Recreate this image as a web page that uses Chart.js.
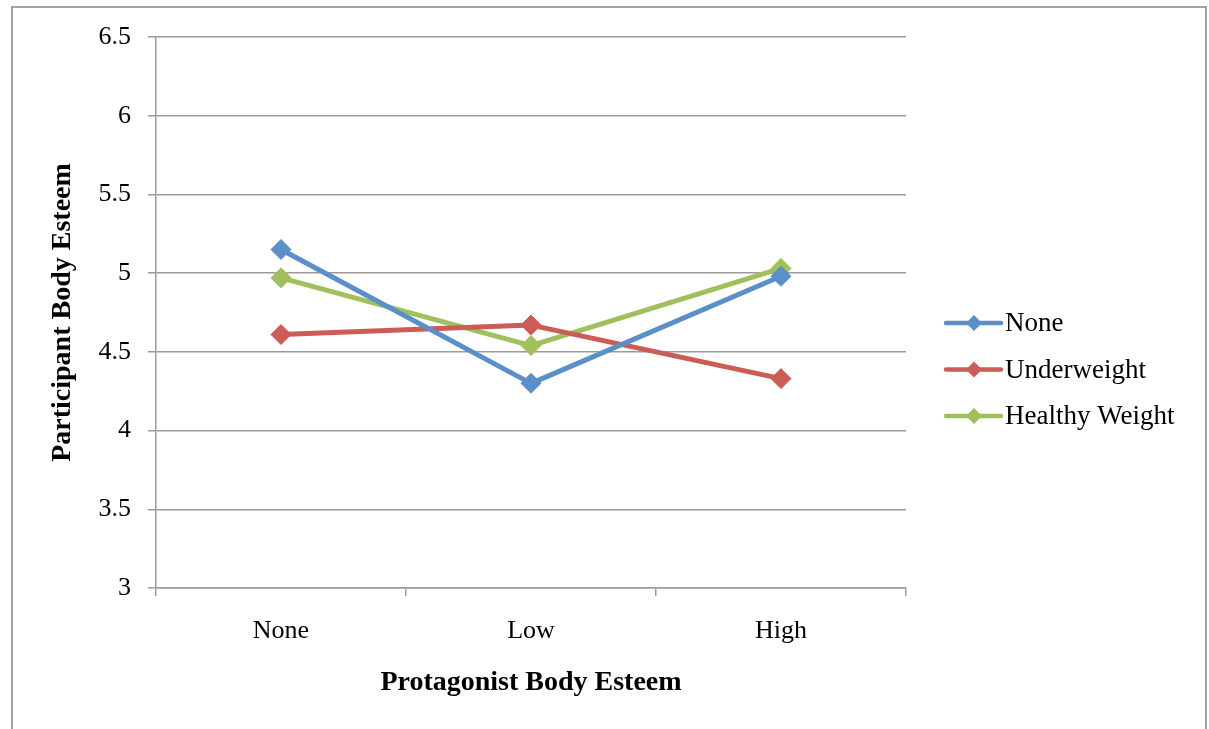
<!DOCTYPE html>
<html>
<head>
<meta charset="utf-8">
<title>Participant Body Esteem</title>
<script src="https://cdn.jsdelivr.net/npm/chart.js@4/dist/chart.umd.min.js"></script>
<style>
  html, body { margin: 0; padding: 0; background: #ffffff; }
  #wrap { width: 1209px; height: 729px; }
</style>
</head>
<body>
<div id="wrap"><canvas id="chart" width="1209" height="729"></canvas></div>
<script>
// Protagonist body esteem conditions (x axis)
const categories = ['None', 'Low', 'High'];

// Mean participant body esteem per protagonist weight condition
const seriesNames = ['None', 'Underweight', 'Healthy Weight'];
const noneValues = [5.15, 4.30, 4.98];
const underweightValues = [4.61, 4.67, 4.33];
const healthyValues = [4.97, 4.54, 5.03];

// Y axis ticks
const yTickValues = [3, 3.5, 4, 4.5, 5, 5.5, 6, 6.5];
const yTickLabels = ['3', '3.5', '4', '4.5', '5', '5.5', '6', '6.5'];

const seriesColors = ['#5A8FC9', '#CB5C56', '#A0C05E'];
const FONT = '"Liberation Serif", "Times New Roman", serif';
const GRID = '#9b9b9b';

// Frame around the whole chart
const framePlugin = {
  id: 'frame',
  beforeDraw(chart) {
    const ctx = chart.ctx;
    ctx.save();
    ctx.fillStyle = '#ffffff';
    ctx.fillRect(0, 0, chart.width, chart.height);
    ctx.strokeStyle = '#a3a3a3';
    ctx.lineWidth = 2;
    ctx.strokeRect(12, 7, 1194, chart.height + 20);
    ctx.restore();
  }
};

// Legend: line segment with a diamond marker, followed by the series name
const lineLegendPlugin = {
  id: 'lineLegend',
  afterDraw(chart) {
    const ctx = chart.ctx;
    const x0 = chart.chartArea.right + 40;
    const y0 = 323;
    const step = 46.5;
    ctx.save();
    chart.data.datasets.forEach((ds, i) => {
      const y = y0 + i * step;
      ctx.strokeStyle = ds.borderColor;
      ctx.lineWidth = 4.5;
      ctx.lineCap = 'round';
      ctx.beginPath();
      ctx.moveTo(x0, y);
      ctx.lineTo(x0 + 55, y);
      ctx.stroke();
      ctx.fillStyle = ds.borderColor;
      ctx.beginPath();
      const cx = x0 + 28, r = 8;
      ctx.moveTo(cx - r, y);
      ctx.lineTo(cx, y - r);
      ctx.lineTo(cx + r, y);
      ctx.lineTo(cx, y + r);
      ctx.closePath();
      ctx.fill();
      ctx.fillStyle = '#000000';
      ctx.font = '27px ' + FONT;
      ctx.textAlign = 'left';
      ctx.textBaseline = 'middle';
      ctx.fillText(ds.label, x0 + 59, y + 1);
    });
    ctx.restore();
  }
};

function makeDataset(label, values, color) {
  return {
    label: label,
    data: values,
    borderColor: color,
    backgroundColor: color,
    borderWidth: 5,
    borderJoinStyle: 'round',
    tension: 0,
    pointStyle: 'rectRot',
    pointRadius: 10,
    pointHoverRadius: 10,
    pointBorderWidth: 1,
    pointBackgroundColor: color,
    pointBorderColor: color,
    fill: false
  };
}

new Chart(document.getElementById('chart'), {
  type: 'line',
  data: {
    labels: categories,
    datasets: [
      makeDataset(seriesNames[0], noneValues, seriesColors[0]),
      makeDataset(seriesNames[1], underweightValues, seriesColors[1]),
      makeDataset(seriesNames[2], healthyValues, seriesColors[2])
    ]
  },
  options: {
    responsive: false,
    devicePixelRatio: 1,
    animation: false,
    layout: { padding: { left: 14, top: 37, right: 303, bottom: 0 } },
    plugins: {
      legend: { display: false },
      tooltip: { enabled: false }
    },
    scales: {
      x: {
        type: 'category',
        offset: true,
        grid: {
          offset: true,
          drawOnChartArea: false,
          drawTicks: true,
          tickLength: 8,
          color: GRID,
          lineWidth: 1.5
        },
        border: { display: true, color: GRID, width: 1.5 },
        ticks: {
          color: '#000000',
          padding: 20,
          font: { family: FONT, size: 26 }
        },
        title: {
          display: true,
          text: 'Protagonist Body Esteem',
          color: '#000000',
          font: { family: FONT, size: 28, weight: 'bold' },
          padding: { top: 0, bottom: 29 }
        },
        afterFit(scale) { scale.height = 729 - 588; }
      },
      y: {
        min: 3,
        max: 6.5,
        afterBuildTicks(scale) {
          scale.ticks = yTickValues.map(v => ({ value: v }));
        },
        grid: {
          drawTicks: true,
          tickLength: 8,
          color: GRID,
          lineWidth: 1.5
        },
        border: { display: true, color: GRID, width: 1.5 },
        ticks: {
          color: '#000000',
          padding: 17,
          font: { family: FONT, size: 26 },
          callback(value) {
            const i = yTickValues.indexOf(value);
            return i >= 0 ? yTickLabels[i] : '';
          }
        },
        title: {
          display: true,
          text: 'Participant Body Esteem',
          color: '#000000',
          font: { family: FONT, size: 28, weight: 'bold' },
          padding: { top: 32, bottom: 0 }
        },
        afterFit(scale) { scale.width = 156 - 14; }
      }
    }
  },
  plugins: [framePlugin, lineLegendPlugin]
});
</script>
</body>
</html>
